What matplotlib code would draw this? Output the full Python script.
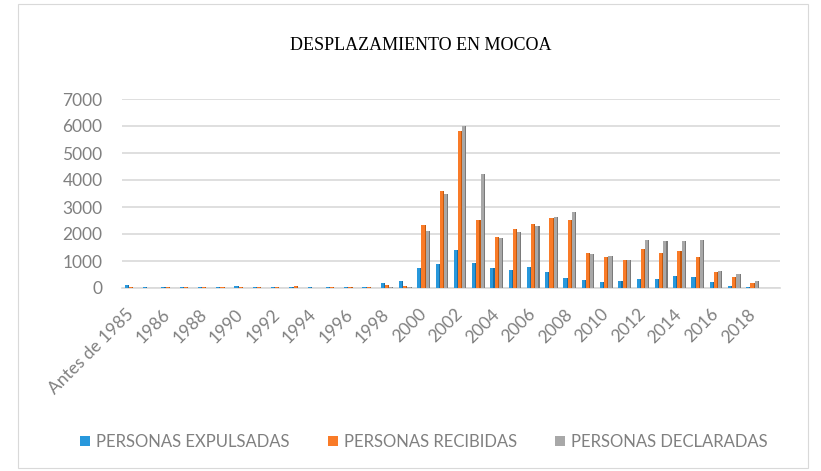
import matplotlib
matplotlib.use("Agg")
import matplotlib.pyplot as plt
import numpy as np
from matplotlib.patches import Rectangle, Patch

categories = ['Antes de 1985', '1985', '1986', '1987', '1988', '1989', '1990', '1991',
              '1992', '1993', '1994', '1995', '1996', '1997', '1998', '1999', '2000',
              '2001', '2002', '2003', '2004', '2005', '2006', '2007', '2008', '2009',
              '2010', '2011', '2012', '2013', '2014', '2015', '2016', '2017', '2018', '2019']

expulsadas = [120, 30, 25, 30, 25, 25, 70, 30, 25, 35, 20, 25, 30, 30, 175, 250, 740,
              895, 1400, 920, 735, 675, 770, 575, 365, 300, 230, 265, 335, 340, 450, 400,
              205, 90, 30, 0]
recibidas = [20, 15, 20, 25, 20, 20, 45, 25, 20, 70, 15, 20, 25, 20, 120, 85, 2330,
             3590, 5830, 2530, 1890, 2200, 2370, 2610, 2530, 1280, 1150, 1050, 1440, 1280,
             1380, 1160, 585, 400, 180, 0]
declaradas = [10, 5, 5, 5, 5, 5, 10, 5, 5, 10, 5, 5, 5, 5, 50, 30, 2120,
              3490, 6000, 4240, 1870, 2080, 2290, 2620, 2800, 1275, 1170, 1035, 1790, 1730,
              1730, 1770, 615, 520, 255, 0]

series = [("PERSONAS EXPULSADAS", expulsadas, '#2898DC', '#1B6EA3'),
          ("PERSONAS RECIBIDAS", recibidas, '#F97B28', '#C2590F'),
          ("PERSONAS DECLARADAS", declaradas, '#A8A8A8', '#7A7A7A')]

W, H = 821, 471
fig = plt.figure(figsize=(W / 100, H / 100), dpi=100)
fig.patch.set_facecolor('white')

left, right = 122 / W, 780 / W
bottom, top = 1 - 288 / H, 1 - 99 / H
ax = fig.add_axes([left, bottom, right - left, top - bottom])

x = np.arange(len(categories))
bw = 0.23
side = 0.06
for i, (name, vals, col, dark) in enumerate(series):
    pos = x + (i - 1) * bw
    ax.bar(pos - side / 2, vals, width=bw - side, color=col, linewidth=0, zorder=3)
    ax.bar(pos + (bw - side) / 2, vals, width=side, color=dark, linewidth=0, zorder=3)

ax.set_xlim(-0.5, len(categories) - 0.5)
ax.set_ylim(0, 7000)
ax.set_yticks(np.arange(0, 7001, 1000))
ax.yaxis.grid(True, color='#D9D9D9', linewidth=1.2, zorder=0)
ax.set_axisbelow(True)
for s in ['top', 'right', 'left']:
    ax.spines[s].set_visible(False)
ax.spines['bottom'].set_color('#D9D9D9')
ax.spines['bottom'].set_linewidth(1.2)

ax.set_xticks(x[::2])
ax.set_xticklabels(categories[::2], rotation=45, ha='right', va='center',
                   rotation_mode='anchor', fontfamily='Lato', fontsize=12.5, color='#808080')
ax.tick_params(axis='x', length=0, pad=17)
ax.tick_params(axis='y', length=0, pad=14, labelsize=12.5, labelcolor='#808080')
for lab in ax.get_yticklabels():
    lab.set_fontfamily('Lato')

fig.text(421 / W, 1 - 45 / H, "DESPLAZAMIENTO EN MOCOA", ha='center', va='center',
         fontfamily='Liberation Serif', fontsize=13, color='#000000')

handles = [Patch(facecolor=c, edgecolor='none', label=n) for n, _, c, _ in series]
leg = fig.legend(handles=handles, loc='center', bbox_to_anchor=(424 / W, 1 - 442 / H),
                 ncol=3, frameon=False, handlelength=0.6, handleheight=0.6,
                 handletextpad=0.35, columnspacing=2.3,
                 prop={'family': 'Lato', 'size': 12})
for t in leg.get_texts():
    t.set_color('#808080')

fig.patches.append(Rectangle((18 / W, 3 / H), (808 - 18) / W, (467 - 3) / H,
                             transform=fig.transFigure, fill=False,
                             edgecolor='#D9D9D9', linewidth=0.8))

fig.savefig('out.png', dpi=100)
